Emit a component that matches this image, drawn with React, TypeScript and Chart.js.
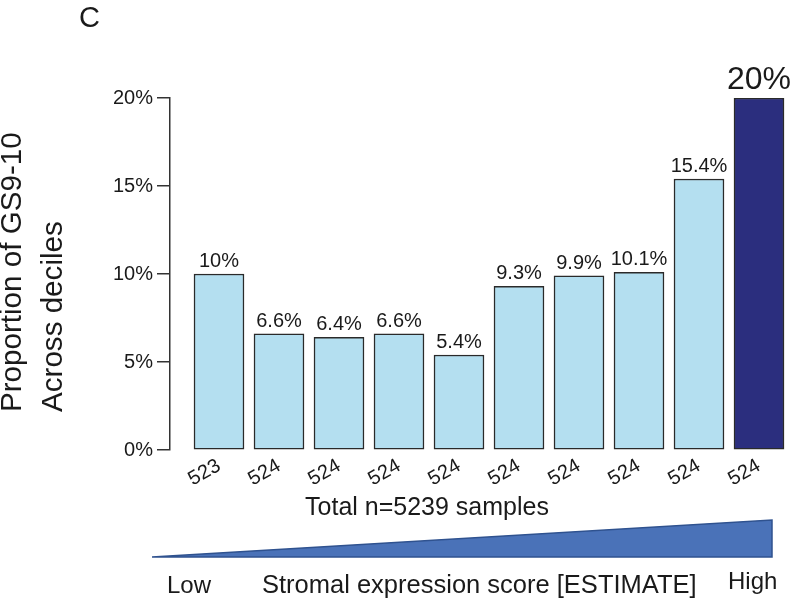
import React, { useEffect, useRef } from "react";
import { Chart, registerables } from "chart.js";

Chart.register(...registerables);

const sampleCounts: string[] = ["523", "524", "524", "524", "524", "524", "524", "524", "524", "524"];
const proportions: number[] = [10, 6.6, 6.4, 6.6, 5.4, 9.3, 9.9, 10.1, 15.4, 20];
const yTicks: number[] = [0, 5, 10, 15, 20];
const yTitleLines: string[] = ["Proportion of GS9-10", "Across deciles"];
const panelLetter = "C";
const totalLabel = "Total n=5239 samples";
const gradientLabels: string[] = ["Low", "Stromal expression score [ESTIMATE]", "High"];

const FONT = "'Liberation Sans', Arial, Helvetica, sans-serif";
const LIGHT = "#b4dff0";
const DARK = "#2b2e7e";
const EDGE = "#2a2a2a";
const TEXT = "#1a1a1a";

const annotations = {
  id: "annotations",
  afterDraw(chart: any) {
    const ctx: CanvasRenderingContext2D = chart.ctx;
    const meta = chart.getDatasetMeta(0);
    ctx.save();
    ctx.fillStyle = TEXT;
    // value labels
    meta.data.forEach((bar: any, i: number) => {
      const last = i === proportions.length - 1;
      ctx.font = `${last ? 32 : 20}px ${FONT}`;
      ctx.textAlign = "center";
      ctx.textBaseline = "alphabetic";
      ctx.fillText(`${proportions[i]}%`, bar.x, bar.y - (last ? 9 : 7));
    });
    // panel letter
    ctx.font = `29px ${FONT}`;
    ctx.textAlign = "left";
    ctx.fillText(panelLetter, 79, 27);
    // y title
    ctx.font = `29.6px ${FONT}`;
    const ys = [21, 62];
    yTitleLines.forEach((line, i) => {
      ctx.save();
      ctx.translate(ys[i], 412);
      ctx.rotate(-Math.PI / 2);
      ctx.textAlign = "left";
      ctx.fillText(line, 0, 0);
      ctx.restore();
    });
    // total label
    ctx.font = `25px ${FONT}`;
    ctx.textAlign = "center";
    ctx.fillText(totalLabel, 427, 515);
    // triangle
    ctx.beginPath();
    ctx.moveTo(152, 557);
    ctx.lineTo(772, 520);
    ctx.lineTo(772, 557);
    ctx.closePath();
    ctx.fillStyle = "#4a72b8";
    ctx.fill();
    ctx.strokeStyle = "#2f528f";
    ctx.lineWidth = 1.5;
    ctx.stroke();
    // gradient labels
    ctx.fillStyle = TEXT;
    ctx.textAlign = "left";
    ctx.font = `24px ${FONT}`;
    ctx.fillText(gradientLabels[0], 167, 593);
    ctx.font = `25.5px ${FONT}`;
    ctx.fillText(gradientLabels[1], 262, 593);
    ctx.font = `24px ${FONT}`;
    ctx.fillText(gradientLabels[2], 728, 589);
    ctx.restore();
  },
};

export default function App() {
  const ref = useRef<HTMLCanvasElement>(null);
  useEffect(() => {
    if (!ref.current) return;
    const chart = new Chart(ref.current, {
      type: "bar",
      data: {
        datasets: [
          {
            data: proportions.map((v, i) => ({ x: i, y: v })),
            backgroundColor: proportions.map((_, i) => (i === proportions.length - 1 ? DARK : LIGHT)),
            borderColor: EDGE,
            borderWidth: 1.5,
            borderSkipped: false,
            barThickness: 50,
          },
        ],
      },
      options: {
        responsive: false,
        animation: false,
        layout: { padding: { top: 98, right: 10, left: 0, bottom: 0 } },
        plugins: { legend: { display: false }, tooltip: { enabled: false } },
        scales: {
          x: {
            type: "linear",
            offset: false,
            min: -0.8167,
            max: 9.5167,
            grid: { display: false, drawTicks: false, offset: false },
            border: { display: false },
            afterBuildTicks: (s: any) => {
              s.ticks = sampleCounts.map((_, i) => ({ value: i }));
            },
            afterFit: (s: any) => {
              s.height = 150;
            },
            ticks: {
              autoSkip: false,
              minRotation: 30,
              maxRotation: 30,
              padding: 4,
              color: TEXT,
              font: { family: FONT, size: 20 },
              callback: (v: any) => sampleCounts[Math.round(Number(v))] ?? "",
            },
          },
          y: {
            min: 0,
            max: 20,
            afterBuildTicks: (s: any) => {
              s.ticks = yTicks.map((v) => ({ value: v }));
            },
            afterFit: (s: any) => {
              s.width = 170;
            },
            grid: { drawOnChartArea: false, drawTicks: true, tickLength: 13, color: "#333", lineWidth: 1.5 },
            border: { display: true, color: "#333", width: 1.5 },
            ticks: {
              padding: 4,
              color: TEXT,
              font: { family: FONT, size: 20 },
              callback: (v: any) => `${v}%`,
            },
          },
        },
      },
      plugins: [annotations],
    });
    return () => chart.destroy();
  }, []);
  return (
    <div style={{ position: "fixed", left: 0, top: 0, width: 800, height: 600, background: "#fff" }}>
      <canvas ref={ref} width={800} height={600} />
    </div>
  );
}
